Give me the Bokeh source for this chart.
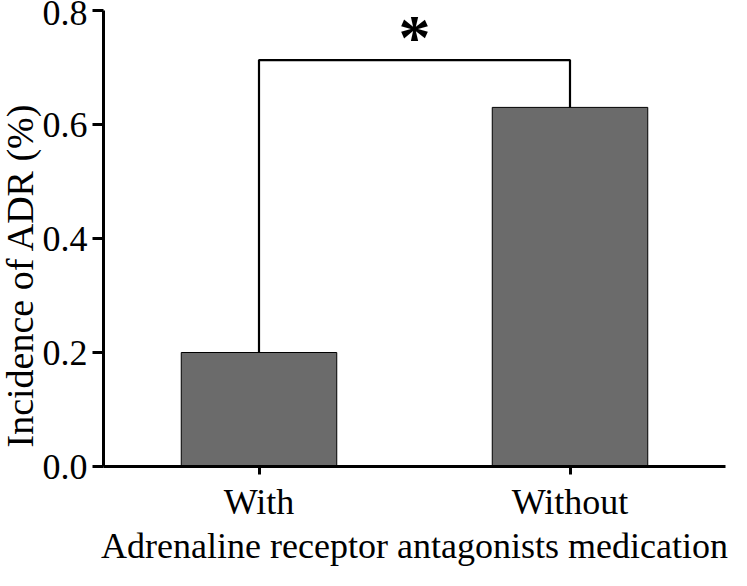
from bokeh.plotting import figure
from bokeh.models import FactorRange, Range1d, FixedTicker, PrintfTickFormatter, Label, Title
from bokeh.embed import file_html
from bokeh.resources import INLINE

# ---- data ----
categories = ["With", "Without"]
incidence = [0.20, 0.63]
y_ticks = [0.0, 0.2, 0.4, 0.6, 0.8]
bracket_level = 0.713
star_level = 0.753
significance = "*"
x_title = "Adrenaline receptor antagonists medication"
y_title = "Incidence of ADR (%)"

FONT = "'Liberation Serif', 'Times New Roman', serif"

p = figure(
    x_range=FactorRange(factors=categories, range_padding=0),
    y_range=Range1d(0, 0.8),
    width=731, height=570,
    output_backend="svg", toolbar_location=None,
    min_border_left=103, min_border_right=6,
    min_border_top=10, min_border_bottom=104,
)
p.background_fill_color = "white"
p.border_fill_color = "white"
p.outline_line_color = None
p.xgrid.visible = False
p.ygrid.visible = False

p.vbar(x=categories, top=incidence, width=0.5,
       fill_color="#6b6b6b", line_color="black", line_width=1)

# significance bracket
p.line(x=[categories[0], categories[0], categories[1], categories[1]],
       y=[incidence[0], bracket_level, bracket_level, incidence[1]],
       line_width=2.2, line_color="black")
p.add_layout(Label(x=len(categories) / 2, y=star_level, text=significance,
                   text_font=FONT, text_font_size="64px", text_font_style="bold",
                   text_align="center", text_baseline="middle", text_color="black"))

for ax in (p.xaxis, p.yaxis):
    ax.axis_line_width = 3
    ax.axis_line_color = "black"
    ax.major_tick_line_width = 3
    ax.major_tick_line_color = "black"
    ax.major_tick_in = 0
    ax.minor_tick_line_color = None
    ax.major_label_text_font = FONT
    ax.major_label_text_font_size = "36px"
    ax.major_label_text_color = "black"

p.yaxis.ticker = FixedTicker(ticks=y_ticks)
p.yaxis.formatter = PrintfTickFormatter(format="%.1f")
p.yaxis.major_tick_out = 11
p.xaxis.major_tick_out = 8
p.yaxis.major_label_standoff = 5
p.xaxis.major_label_standoff = 7

# axis titles
p.add_layout(Title(text=x_title, align="center", vertical_align="top",
                   standoff=2, text_font=FONT, text_font_size="36px",
                   text_font_style="normal", text_color="black"), "below")
p.add_layout(Title(text=y_title, align="left", offset=19, vertical_align="top",
                   standoff=-6, text_font=FONT, text_font_size="38px",
                   text_font_style="normal", text_color="black"), "left")

open("out.html", "w").write(file_html(p, INLINE))
